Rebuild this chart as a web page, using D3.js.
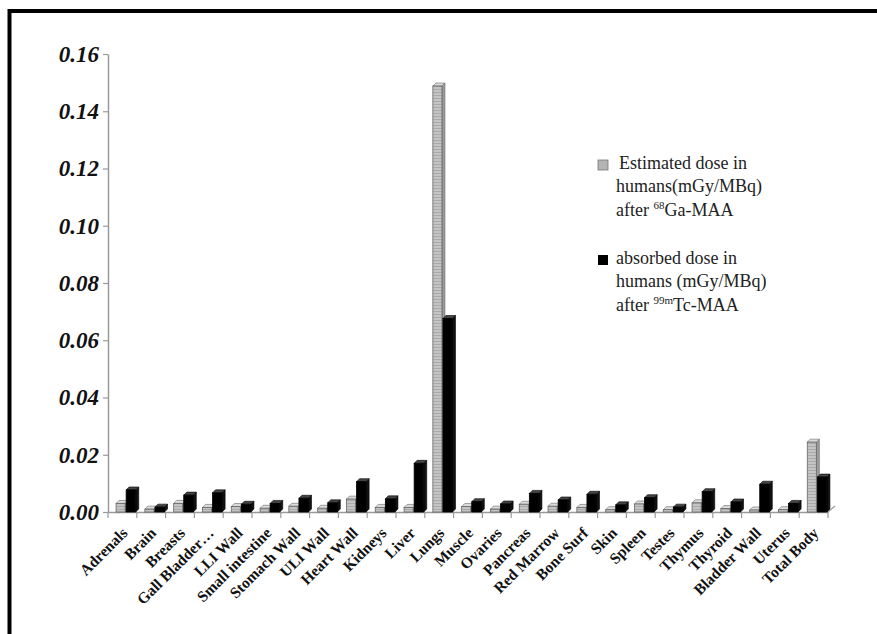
<!DOCTYPE html>
<html>
<head>
<meta charset="utf-8">
<script src="https://cdn.jsdelivr.net/npm/d3@7"></script>
<style>
  html, body { margin: 0; padding: 0; background: #fff; }
  svg { display: block; }
  text { font-family: "Liberation Serif", "Times New Roman", serif; }
</style>
</head>
<body>
<svg id="chart" width="877" height="634"></svg>
<script>
const categories = ["Adrenals","Brain","Breasts","Gall Bladder\u2026","LLI Wall","Small intestine","Stomach Wall","ULI Wall","Heart Wall","Kidneys","Liver","Lungs","Muscle","Ovaries","Pancreas","Red Marrow","Bone Surf","Skin","Spleen","Testes","Thymus","Thyroid","Bladder Wall","Uterus","Total Body"];
const gaValues = [0.0030,0.0010,0.0030,0.0016,0.0019,0.0013,0.0020,0.0013,0.0045,0.0016,0.0016,0.1488,0.0019,0.0010,0.0027,0.0020,0.0016,0.0008,0.0028,0.0008,0.0032,0.0012,0.0007,0.0008,0.0244];
const tcValues = [0.0077,0.0017,0.0059,0.0067,0.0027,0.0030,0.0048,0.0032,0.0106,0.0046,0.0170,0.0676,0.0036,0.0028,0.0065,0.0042,0.0062,0.0025,0.0050,0.0017,0.0071,0.0035,0.0097,0.0030,0.0122];
const yTicks = [0,0.02,0.04,0.06,0.08,0.10,0.12,0.14,0.16];
const seriesNames = ["ga","tc"];

const svg = d3.select("#chart");

svg.append("rect").attr("x",0).attr("y",0).attr("width",877).attr("height",634).attr("fill","#fff");
svg.append("path").attr("d","M9.5,700 V11 H900").attr("fill","none").attr("stroke","#000").attr("stroke-width",4);

const defs = svg.append("defs");
const pat = defs.append("pattern").attr("id","grayPat").attr("patternUnits","userSpaceOnUse")
  .attr("width",4).attr("height",3);
pat.append("rect").attr("width",4).attr("height",3).attr("fill","#c4c4c4");
pat.append("rect").attr("y",2).attr("width",4).attr("height",1).attr("fill","#aaaaaa");

const x = d3.scaleBand().domain(categories).range([108,828]).padding(0);
const bw = x.bandwidth();
const xs = d3.scaleBand().domain(seriesNames).range([bw*0.28, bw*0.98]).padding(0);
const y = d3.scaleLinear().domain([0,0.16]).range([512,54]);
const depth = 3;

// y axis
const yAxis = svg.append("g").attr("transform","translate(108,0)")
  .call(d3.axisLeft(y).tickValues(yTicks).tickFormat(d3.format(".2f")).tickSize(5).tickSizeOuter(0));
yAxis.attr("font-family",null);
yAxis.select(".domain").attr("stroke","#9a9a9a").attr("stroke-width",1.5);
yAxis.selectAll(".tick line").attr("stroke","#9a9a9a").attr("stroke-width",1.2);
yAxis.selectAll(".tick text").attr("font-size",23)
  .attr("font-weight","bold").attr("font-style","italic").attr("fill","#111").attr("x",-9);

// x axis
const xAxis = svg.append("g").attr("transform","translate(0,512)")
  .call(d3.axisBottom(x).tickSize(0).tickFormat("").tickSizeOuter(0));
xAxis.select(".domain").attr("stroke","#9a9a9a").attr("stroke-width",1.5);
const bounds = categories.map(c => x(c)).concat([x.range()[1]]);
svg.append("g").selectAll("line").data(bounds).join("line")
  .attr("x1",d=>d).attr("x2",d=>d).attr("y1",512).attr("y2",518)
  .attr("stroke","#9a9a9a").attr("stroke-width",1.2);
svg.append("line").attr("x1",x.range()[1]).attr("y1",512).attr("x2",x.range()[1]+7).attr("y2",506)
  .attr("stroke","#9a9a9a").attr("stroke-width",1.2);

// x labels, rotated 45 degrees
svg.append("g").selectAll("text").data(categories).join("text")
  .attr("transform", d => `translate(${x(d)+bw/2+6},534) rotate(-45)`)
  .attr("text-anchor","end")
  .attr("font-size",15.5).attr("font-weight","bold").attr("fill","#111")
  .text(d=>d);

// bars with a slight 3D depth
function drawBar(g, x0, w, v, front, side, top, stroke) {
  const yt = y(v), yb = y(0);
  g.append("path").attr("d",`M${x0+w},${yb} L${x0+w+depth},${yb-depth} L${x0+w+depth},${yt-depth} L${x0+w},${yt} Z`)
    .attr("fill",side).attr("stroke",stroke).attr("stroke-width",0.6);
  g.append("path").attr("d",`M${x0},${yt} L${x0+depth},${yt-depth} L${x0+w+depth},${yt-depth} L${x0+w},${yt} Z`)
    .attr("fill",top).attr("stroke",stroke).attr("stroke-width",0.6);
  g.append("rect").attr("x",x0).attr("y",yt).attr("width",w).attr("height",yb-yt)
    .attr("fill",front).attr("stroke",stroke).attr("stroke-width",0.8);
}
const barsG = svg.append("g");
categories.forEach((c,i) => {
  const g = barsG.append("g");
  drawBar(g, x(c)+xs("ga"), xs.bandwidth()-1, gaValues[i], "url(#grayPat)", "#9c9c9c", "#dcdcdc", "#666");
  drawBar(g, x(c)+xs("tc"), xs.bandwidth()-0.5, tcValues[i], "#000", "#111", "#444", "#000");
});

// legend
const lg = svg.append("g").attr("font-size",18).attr("fill","#222");
lg.append("rect").attr("x",598).attr("y",160).attr("width",10).attr("height",10)
  .attr("fill","#b4b4b4").attr("stroke","#777").attr("stroke-width",0.8);
lg.append("text").attr("x",619).attr("y",169).text("Estimated dose in");
lg.append("text").attr("x",616).attr("y",192).text("humans(mGy/MBq)");
const t1 = lg.append("text").attr("x",616).attr("y",216);
t1.append("tspan").text("after ");
t1.append("tspan").attr("font-size",11).attr("dy",-7).text("68");
t1.append("tspan").attr("dy",7).text("Ga-MAA");

lg.append("rect").attr("x",598).attr("y",255).attr("width",10).attr("height",10).attr("fill","#000");
lg.append("text").attr("x",616).attr("y",264).text("absorbed dose in");
lg.append("text").attr("x",616).attr("y",287).text("humans (mGy/MBq)");
const t2 = lg.append("text").attr("x",616).attr("y",311);
t2.append("tspan").text("after ");
t2.append("tspan").attr("font-size",11).attr("dy",-7).text("99m");
t2.append("tspan").attr("dy",7).text("Tc-MAA");
</script>
</body>
</html>
